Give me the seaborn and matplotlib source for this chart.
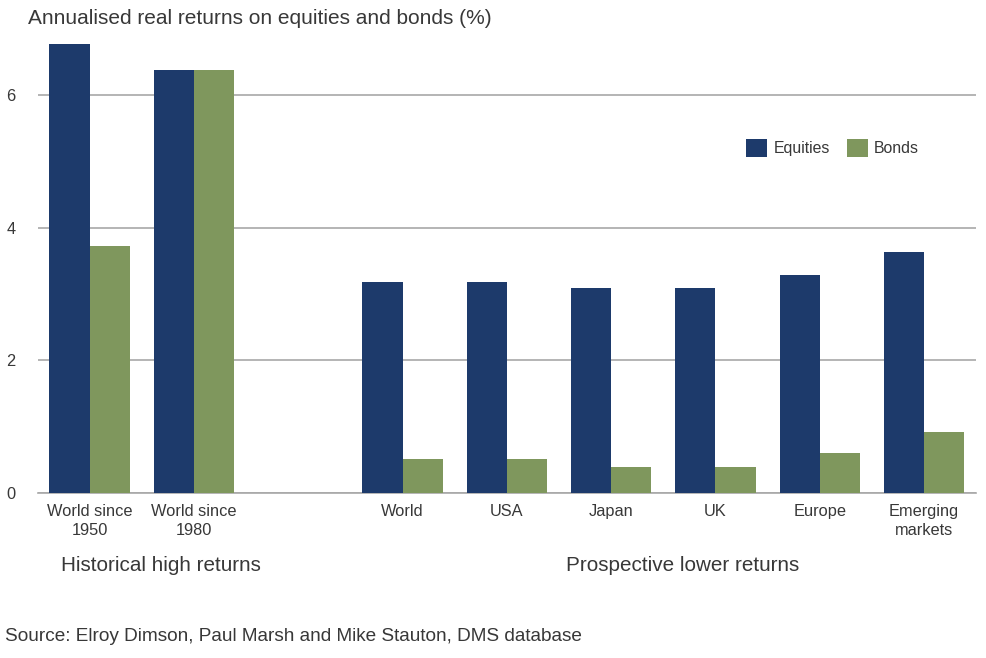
import matplotlib
matplotlib.use("Agg")
import matplotlib.pyplot as plt
import pandas as pd
import seaborn as sns

# values
categories = ["World since\n1950", "World since\n1980", "World", "USA", "Japan", "UK", "Europe", "Emerging\nmarkets"]
equities = [6.77, 6.38, 3.18, 3.18, 3.10, 3.10, 3.29, 3.63]
bonds = [3.72, 6.38, 0.51, 0.51, 0.39, 0.39, 0.60, 0.92]
order = categories[:2] + [" "] + categories[2:]

df = pd.DataFrame({
    "Category": categories * 2,
    "Series": ["Equities"] * len(categories) + ["Bonds"] * len(categories),
    "Return": equities + bonds,
})

sns.set_style("white")
plt.rcParams["font.family"] = ["Liberation Sans", "DejaVu Sans"]
text_col = "#383838"

fig = plt.figure(figsize=(9.87, 6.58), dpi=100)
ax = fig.add_axes([0.038, 0.2508, 0.951, 0.69])

sns.barplot(data=df, x="Category", y="Return", hue="Series", order=order,
            hue_order=["Equities", "Bonds"],
            palette={"Equities": "#1d3a6b", "Bonds": "#7f975d"},
            width=0.77, saturation=1, linewidth=0, ax=ax, zorder=3)

ax.set_ylim(0, 6.85)
ax.set_yticks([0, 2, 4, 6])
ax.yaxis.grid(True, color="#a8a8a8", linewidth=1.2, zorder=0)
ax.set_axisbelow(True)
for s in ["top", "right", "left"]:
    ax.spines[s].set_visible(False)
ax.spines["bottom"].set_color("#a8a8a8")
ax.spines["bottom"].set_linewidth(1.2)
ax.tick_params(axis="both", length=0, labelsize=11.8, colors=text_col)
ax.tick_params(axis="y", pad=16)
ax.tick_params(axis="x", pad=8)
for lbl in ax.get_xticklabels():
    lbl.set_linespacing(1.35)
ax.set_xlabel("")
ax.set_ylabel("")

ax.legend(loc="upper left", bbox_to_anchor=(0.74, 0.81), ncol=2, frameon=False,
          fontsize=11.4, handlelength=1.3, handleheight=1.3, columnspacing=1.1,
          handletextpad=0.4, labelcolor=text_col)

fig.text(0.028, 0.972, "Annualised real returns on equities and bonds (%)",
         fontsize=15, color=text_col, va="center")
fig.text(0.163, 0.141, "Historical high returns", fontsize=14.9, color=text_col,
         ha="center", va="center")
fig.text(0.692, 0.141, "Prospective lower returns", fontsize=14.9, color=text_col,
         ha="center", va="center")
fig.text(0.005, 0.033, "Source: Elroy Dimson, Paul Marsh and Mike Stauton, DMS database",
         fontsize=13.7, color=text_col, va="center")

fig.savefig("out.png", dpi=100)
